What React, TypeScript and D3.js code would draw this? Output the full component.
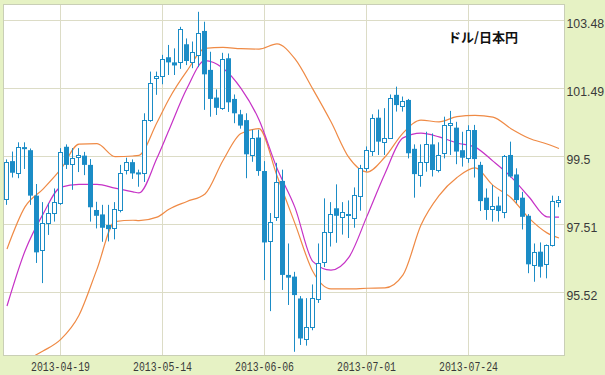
import React from 'react';
import * as d3 from 'd3';

// trading days, 2013-04-08 .. 2013-08-14
const dates = [
  '2013-04-08', '2013-04-09', '2013-04-10', '2013-04-11', '2013-04-12', '2013-04-15', '2013-04-16', '2013-04-17', '2013-04-18', '2013-04-19',
  '2013-04-22', '2013-04-23', '2013-04-24', '2013-04-25', '2013-04-26', '2013-04-29', '2013-04-30', '2013-05-01', '2013-05-02', '2013-05-03',
  '2013-05-06', '2013-05-07', '2013-05-08', '2013-05-09', '2013-05-10', '2013-05-13', '2013-05-14', '2013-05-15', '2013-05-16', '2013-05-17',
  '2013-05-20', '2013-05-21', '2013-05-22', '2013-05-23', '2013-05-24', '2013-05-27', '2013-05-28', '2013-05-29', '2013-05-30', '2013-05-31',
  '2013-06-03', '2013-06-04', '2013-06-05', '2013-06-06', '2013-06-07', '2013-06-10', '2013-06-11', '2013-06-12', '2013-06-13', '2013-06-14',
  '2013-06-17', '2013-06-18', '2013-06-19', '2013-06-20', '2013-06-21', '2013-06-24', '2013-06-25', '2013-06-26', '2013-06-27', '2013-06-28',
  '2013-07-01', '2013-07-02', '2013-07-03', '2013-07-04', '2013-07-05', '2013-07-08', '2013-07-09', '2013-07-10', '2013-07-11', '2013-07-12',
  '2013-07-15', '2013-07-16', '2013-07-17', '2013-07-18', '2013-07-19', '2013-07-22', '2013-07-23', '2013-07-24', '2013-07-25', '2013-07-26',
  '2013-07-29', '2013-07-30', '2013-07-31', '2013-08-01', '2013-08-02', '2013-08-05', '2013-08-06', '2013-08-07', '2013-08-08', '2013-08-09',
  '2013-08-12', '2013-08-13', '2013-08-14',
];

const opens = [
  98.24, 99.35, 99.01, 99.76, 99.67, 98.34, 96.73, 97.53, 97.83, 98.15,
  99.77, 99.24, 99.46, 99.51, 99.24, 97.92, 97.79, 97.48, 97.38, 97.92,
  99.09, 99.32, 99.02, 98.99, 100.55, 101.77, 101.83, 102.39, 102.24, 102.24,
  102.77, 102.26, 102.46, 103.16, 102.02, 101.21, 100.91, 102.36, 101.17, 100.72,
  100.55, 99.55, 100.04, 99.06, 97.01, 97.72, 98.77, 96.02, 95.97, 95.33,
  94.16, 94.48, 95.31, 96.41, 97.27, 97.97, 97.72, 97.76, 97.68, 98.31,
  99.14, 99.64, 100.62, 99.90, 100.02, 101.29, 100.97, 101.14, 99.71, 98.94,
  99.32, 99.84, 99.09, 99.58, 100.41, 100.33, 99.67, 99.43, 100.26, 99.24,
  98.28, 97.95, 98.05, 97.87, 99.53, 98.96, 98.28, 97.75, 96.31, 96.70,
  96.33, 96.90, 98.15,
];
const highs = [
  99.40, 99.63, 99.90, 99.90, 99.72, 98.68, 98.15, 98.12, 98.55, 99.73,
  99.84, 99.73, 99.73, 99.62, 99.41, 98.16, 98.07, 98.07, 98.15, 99.24,
  99.45, 99.40, 99.10, 100.75, 101.97, 101.97, 102.46, 102.75, 102.65, 103.28,
  102.94, 102.85, 103.72, 103.43, 102.55, 101.45, 102.52, 102.50, 101.30, 100.85,
  100.75, 100.27, 100.27, 99.35, 97.83, 99.30, 99.10, 96.94, 96.11, 95.40,
  95.34, 95.74, 96.94, 98.26, 98.15, 98.67, 98.15, 98.20, 98.58, 99.24,
  99.78, 100.72, 100.86, 100.90, 101.30, 101.53, 101.24, 101.17, 99.84, 99.84,
  100.21, 100.16, 99.90, 100.65, 100.82, 100.50, 100.21, 100.40, 100.41, 99.33,
  98.55, 98.65, 98.31, 99.53, 99.92, 99.14, 98.45, 97.80, 96.94, 96.97,
  96.91, 98.34, 98.33,
];
const lows = [
  98.07, 98.87, 98.85, 99.12, 98.07, 96.37, 95.78, 97.19, 97.58, 98.07,
  99.12, 98.51, 99.03, 98.94, 97.58, 97.38, 96.99, 97.00, 97.06, 97.85,
  98.96, 98.83, 98.60, 98.74, 100.50, 101.29, 101.60, 101.87, 101.87, 102.05,
  102.16, 102.07, 102.10, 100.85, 100.65, 100.70, 100.85, 100.79, 100.46, 100.30,
  98.85, 99.33, 98.92, 95.87, 94.96, 97.60, 95.58, 95.14, 93.77, 93.97,
  93.95, 94.40, 95.20, 96.25, 96.85, 96.96, 97.20, 97.10, 97.40, 97.90,
  99.05, 99.50, 99.53, 99.53, 100.02, 100.80, 100.80, 99.43, 98.28, 98.60,
  99.04, 98.90, 99.02, 99.43, 99.53, 99.26, 99.19, 99.30, 98.87, 97.89,
  97.63, 97.58, 97.58, 97.68, 98.87, 98.12, 97.35, 96.07, 95.82, 95.94,
  95.92, 96.85, 98.00,
];
const closes = [
  99.33, 99.01, 99.77, 99.70, 98.34, 96.68, 97.53, 97.83, 98.16, 99.63,
  99.24, 99.43, 99.52, 99.24, 98.00, 97.75, 97.40, 97.36, 97.95, 98.99,
  99.32, 98.99, 98.96, 100.55, 101.63, 101.83, 102.33, 102.24, 102.15, 103.22,
  102.28, 102.55, 103.09, 101.89, 101.17, 100.91, 102.34, 101.07, 100.75, 100.39,
  99.55, 100.04, 99.06, 96.97, 97.56, 98.73, 96.02, 95.94, 95.43, 94.16,
  94.50, 95.33, 96.36, 97.28, 97.79, 97.75, 97.87, 97.80, 98.36, 99.14,
  99.67, 100.60, 99.92, 100.02, 101.19, 100.99, 101.11, 99.58, 98.97, 99.33,
  99.84, 99.09, 99.53, 100.41, 100.46, 99.63, 99.45, 100.26, 99.41, 98.18,
  97.92, 98.05, 97.89, 99.51, 98.90, 98.21, 97.72, 96.33, 96.70, 96.26,
  96.90, 98.18, 98.21,
];

// moving average and bollinger bands, read at these candle indexes
const lineIdx = [0, 3, 6, 9, 12, 15, 18, 21, 22, 25, 27, 30, 33, 36, 39, 42, 45, 48, 51, 54, 57, 60, 63, 66, 69, 72, 75, 78, 81, 84, 87, 90, 92];
const upperBand = [
  96.78, 98.01, 98.53, 99.12, 99.85, 99.86, 99.48, 99.50, 99.52, 100.48, 101.17, 101.99, 102.65, 102.68, 102.64, 102.63, 102.78,
  102.34, 101.45, 100.50, 99.45, 99.03, 99.47, 100.17, 100.55, 100.50, 100.65, 100.69, 100.64, 100.30, 100.02, 99.85, 99.72,
];
const movingAvg = [
  95.11, 96.72, 97.80, 98.59, 98.67, 98.67, 98.56, 98.45, 98.42, 99.44, 100.26, 101.48, 102.29, 102.07, 101.48, 100.56, 99.14,
  97.99, 96.41, 96.16, 96.54, 97.74, 98.99, 100.03, 100.17, 100.06, 99.88, 99.76, 99.35, 98.89, 98.30, 97.72, 97.71,
];
const lowerBand = [
  93.05, 93.50, 93.79, 94.14, 94.84, 96.19, 97.58, 97.62, 97.61, 97.71, 97.94, 98.17, 98.39, 99.37, 100.16, 100.30, 98.92,
  97.52, 96.11, 95.61, 95.61, 95.63, 95.64, 96.02, 97.48, 98.34, 98.87, 99.15, 98.64, 98.28, 97.68, 97.25, 97.10,
];

const tickDates = ['2013-04-19', '2013-05-14', '2013-06-06', '2013-07-01', '2013-07-24'];
const yTicks = [95.52, 97.51, 99.5, 101.49, 103.48];
const title = 'ドル/日本円';

const W = 605;
const H = 375;
const plot = { left: 4, top: 5, right: 564, bottom: 355 };

const BLUE = '#1b8cc6';
const ORANGE = '#ef8a45';
const MAGENTA = '#c632c6';
const GRID = '#dcdcc6';

const App: React.FC = () => {
  const x = d3.scaleBand<string>().domain(dates).range([plot.left, plot.left + dates.length * 6]);
  const y = d3.scaleLinear().domain([93.676, 103.919]).range([plot.bottom, plot.top]);
  const cx = (i: number) => Math.round((x(dates[i]) as number) + x.bandwidth() / 2);

  const line = d3.line<[number, number]>()
    .x(d => cx(d[0]))
    .y(d => y(d[1]))
    .curve(d3.curveMonotoneX);
  const series = (vals: number[]) => line(lineIdx.map((k, j) => [k, vals[j]] as [number, number])) || '';

  return (
    <svg width={W} height={H} style={{ position: 'absolute', left: 0, top: 0 }}>
      <defs>
        <clipPath id="plotClip">
          <rect x={plot.left} y={plot.top} width={plot.right - plot.left} height={plot.bottom - plot.top} />
        </clipPath>
      </defs>
      <rect x={0} y={0} width={W} height={H} fill="#e6f2c4" />
      <rect x={plot.left} y={plot.top} width={plot.right - plot.left} height={plot.bottom - plot.top} fill="#ffffff" />

      {/* grid */}
      {yTicks.map(t => (
        <line key={'h' + t} x1={plot.left} x2={plot.right} y1={Math.round(y(t)) + 0.5} y2={Math.round(y(t)) + 0.5}
          stroke={GRID} strokeWidth={1} />
      ))}
      {tickDates.map(d => {
        const xx = cx(dates.indexOf(d)) - 0.5;
        return <line key={'v' + d} x1={xx} x2={xx} y1={plot.top} y2={plot.bottom} stroke={GRID} strokeWidth={1} />;
      })}

      {/* bands */}
      <g clipPath="url(#plotClip)" fill="none" strokeWidth={1.2}>
        <path d={series(upperBand)} stroke={ORANGE} />
        <path d={series(lowerBand)} stroke={ORANGE} />
        <path d={series(movingAvg)} stroke={MAGENTA} />
      </g>

      {/* candles */}
      <g clipPath="url(#plotClip)">
        {dates.map((d, i) => {
          const c = cx(i);
          const up = closes[i] >= opens[i];
          const top = y(Math.max(opens[i], closes[i]));
          const bot = y(Math.min(opens[i], closes[i]));
          return (
            <g key={d}>
              <line x1={c - 0.5} x2={c - 0.5} y1={y(highs[i])} y2={y(lows[i])} stroke={BLUE} strokeWidth={1} />
              {up ? (
                <rect x={c - 2.5} y={Math.round(top) + 0.5} width={4} height={Math.max(1, Math.round(bot - top))}
                  fill="#ffffff" stroke={BLUE} strokeWidth={1} />
              ) : (
                <rect x={c - 3} y={top} width={5} height={Math.max(1.5, bot - top)} fill={BLUE} />
              )}
            </g>
          );
        })}
      </g>

      <rect x={plot.left - 0.5} y={plot.top - 0.5} width={plot.right - plot.left + 1} height={plot.bottom - plot.top + 1}
        fill="none" stroke="#c9cfb6" strokeWidth={1} />

      {/* right axis */}
      {yTicks.map(t => (
        <text key={'yl' + t} x={566.5} y={Math.round(y(t)) + 7.5} fontFamily="'Liberation Sans', Arial, sans-serif"
          fontSize={12.3} fill="#3a3a3a">{t}</text>
      ))}

      {/* bottom axis */}
      {tickDates.map(d => (
        <text key={'xl' + d} x={cx(dates.indexOf(d)) - 0.5} y={370.5} textAnchor="middle"
          fontFamily="'Liberation Mono', 'DejaVu Sans Mono', monospace" fontSize={12.5}
          textLength={59} lengthAdjust="spacingAndGlyphs" fill="#3a3a3a">{d}</text>
      ))}

      <text x={448} y={42} fontFamily="'Noto Sans CJK JP', sans-serif" fontWeight="bold" fontSize={13}
        fill="#111111">{title}</text>
    </svg>
  );
};

export default App;
